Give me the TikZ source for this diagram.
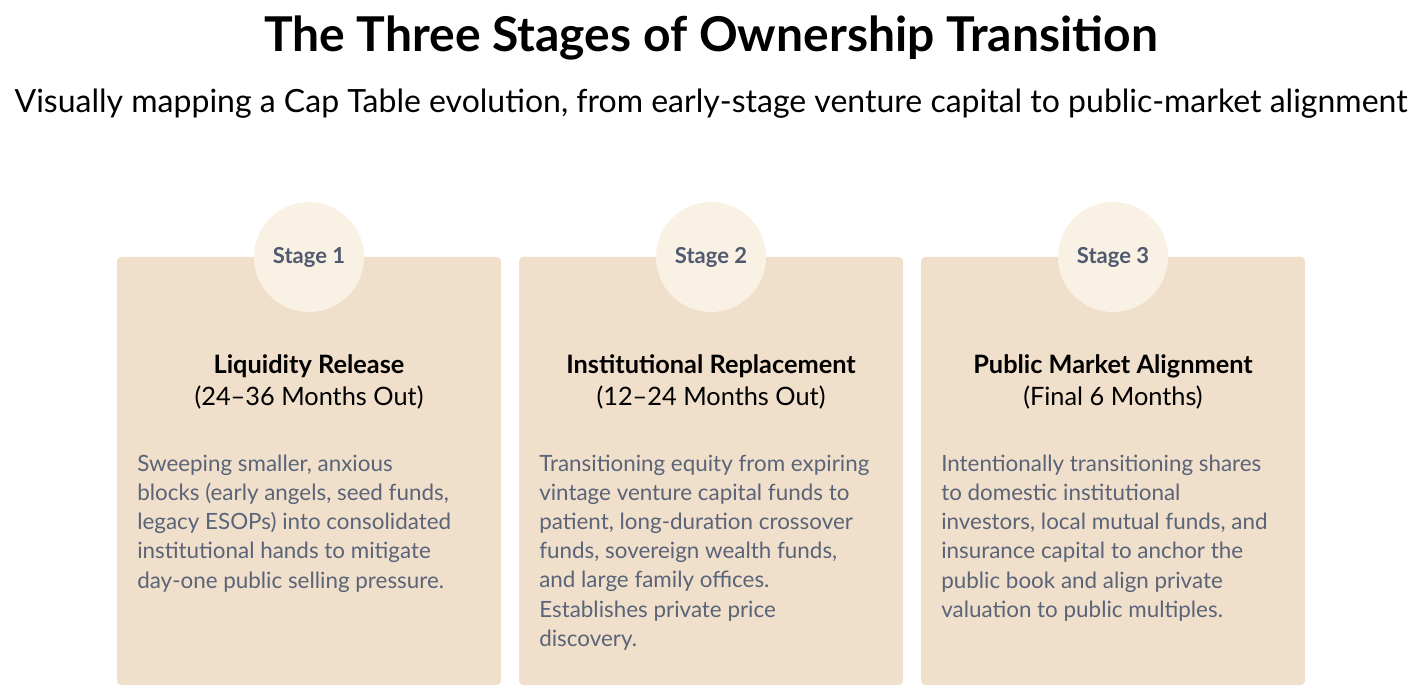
\documentclass[tikz,border=0pt]{standalone}
\usepackage{fontspec}
\setmainfont{Lato}
\definecolor{card}{HTML}{F0DFCB}
\definecolor{circ}{HTML}{FAF1E5}
\definecolor{stg}{HTML}{4F5A6E}
\definecolor{body}{HTML}{5A6478}
\begin{document}
\begin{tikzpicture}[x=0.75pt,y=-0.75pt,
  cardbox/.style={fill=card,rounded corners=3pt,draw=none},
  circbox/.style={circle,fill=circ,minimum size=110*0.75pt,inner sep=0pt,font=\fontsize{16.5}{19}\selectfont\bfseries,text=stg},
  headtxt/.style={font=\fontsize{19}{24.5}\selectfont,align=center,text=black},
  bodytxt/.style={anchor=north west,align=left,inner sep=0pt,font=\fontsize{16.8}{21.8}\selectfont,text=body}]
\useasboundingbox (0,0) rectangle (1426,698);
\node[font=\fontsize{36}{40}\selectfont\bfseries] (title) at (711,38) {The Three Stages of Ownership Transition};
\node[font=\fontsize{24}{28}\selectfont] (sub) at (711,104) {Visually mapping a Cap Table evolution, from early-stage venture capital to public-market alignment};
\foreach \i/\x in {1/117,2/519,3/921}{
  \fill[cardbox] (\x,257) rectangle ++(384,428);
}
\node[circbox] (c1) at (309,257) {Stage 1};
\node[circbox] (c2) at (711,257) {Stage 2};
\node[circbox] (c3) at (1113,257) {Stage 3};
\node[headtxt] (h1) at (309,382) {\textbf{Liquidity Release}\\(24–36 Months Out)};
\node[headtxt] (h2) at (711,382) {\textbf{Institutional Replacement}\\(12–24 Months Out)};
\node[headtxt] (h3) at (1113,382) {\textbf{Public Market Alignment}\\(Final 6 Months)};
\node[bodytxt] (b1) at (137,455) {Sweeping smaller, anxious\\blocks (early angels, seed funds,\\legacy ESOPs) into consolidated\\institutional hands to mitigate\\day-one public selling pressure.};
\node[bodytxt] (b2) at (539,455) {Transitioning equity from expiring\\vintage venture capital funds to\\patient, long-duration crossover\\funds, sovereign wealth funds,\\and large family offices.\\Establishes private price\\discovery.};
\node[bodytxt] (b3) at (941,455) {Intentionally transitioning shares\\to domestic institutional\\investors, local mutual funds, and\\insurance capital to anchor the\\public book and align private\\valuation to public multiples.};
\end{tikzpicture}
\end{document}
